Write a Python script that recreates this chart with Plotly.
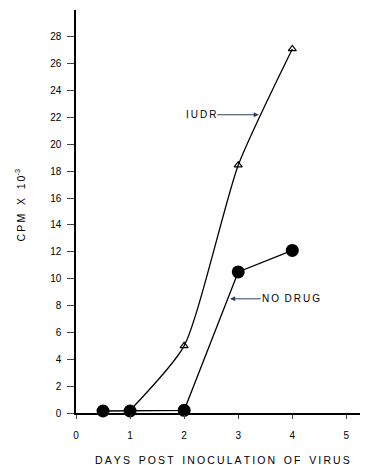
import plotly.graph_objects as go

days_nodrug = [0.5, 1, 2, 3, 4]
cpm_nodrug = [0.15, 0.15, 0.2, 10.5, 12.1]
days_iudr = [1, 2, 3, 4]
cpm_iudr = [0.2, 5.0, 18.45, 27.1]
x_ticks = [0, 1, 2, 3, 4, 5]
y_ticks = list(range(0, 29, 2))

FONT = "Liberation Sans, Arial, sans-serif"


def tracked(s, gap=2):
    """Emulate wide letter spacing with thin spaces."""
    words = s.split(" ")
    return ("\u00a0" * gap).join("\u2009".join(w) for w in words)


fig = go.Figure()
fig.add_trace(go.Scatter(
    x=days_iudr, y=cpm_iudr, mode="lines+markers",
    line=dict(color="black", width=1.3, shape="spline", smoothing=0.6),
    marker=dict(symbol="triangle-up-open", size=7, color="black", line=dict(width=1.2)),
    showlegend=False, cliponaxis=False))
fig.add_trace(go.Scatter(
    x=days_nodrug, y=cpm_nodrug, mode="lines+markers",
    line=dict(color="black", width=1.3),
    marker=dict(symbol="circle", size=13, color="black"),
    showlegend=False, cliponaxis=False))

fig.add_annotation(x=3.38, y=22.2, xref="x", yref="y", text=tracked("IUDR"),
                   showarrow=True, arrowhead=2, arrowsize=1, arrowwidth=1,
                   ax=-58, ay=0, font=dict(family=FONT, size=10, color="black"))
fig.add_annotation(x=2.85, y=8.5, xref="x", yref="y", text=tracked("NO DRUG"),
                   showarrow=True, arrowhead=2, arrowsize=1, arrowwidth=1,
                   ax=61, ay=0, font=dict(family=FONT, size=10, color="black"))
fig.add_annotation(x=-0.192, y=0.515, xref="paper", yref="paper",
                   text=tracked("CPM X 10", gap=3) + "<sup>-3</sup>",
                   xanchor="center", yanchor="middle",
                   showarrow=False, textangle=-90, font=dict(family=FONT, size=10.5, color="black"))
fig.add_annotation(x=0.50, y=-0.117, xref="paper", yref="paper",
                   text=tracked("DAYS POST INOCULATION OF VIRUS", gap=3),
                   xanchor="center", yanchor="middle",
                   showarrow=False, font=dict(family=FONT, size=10.5, color="black"))

# The page body adds an 8px margin, so the figure is sized to the visible area.
fig.update_layout(
    width=360, height=457,
    margin=dict(l=68, r=0, t=2, b=52),
    paper_bgcolor="white", plot_bgcolor="white",
    font=dict(family=FONT, size=10, color="black"),
    xaxis=dict(range=[0, 5.4], tickvals=x_ticks, ticks="outside", ticklen=4,
               showline=True, linecolor="black", linewidth=1.5, showgrid=False,
               zeroline=False, ticklabelstandoff=8, automargin=False),
    yaxis=dict(range=[0, 30], tickvals=y_ticks, ticks="outside", ticklen=7,
               showline=True, linecolor="black", linewidth=1.5, showgrid=False,
               zeroline=False, ticklabelstandoff=4, automargin=False),
)
fig.write_html("out.html")
